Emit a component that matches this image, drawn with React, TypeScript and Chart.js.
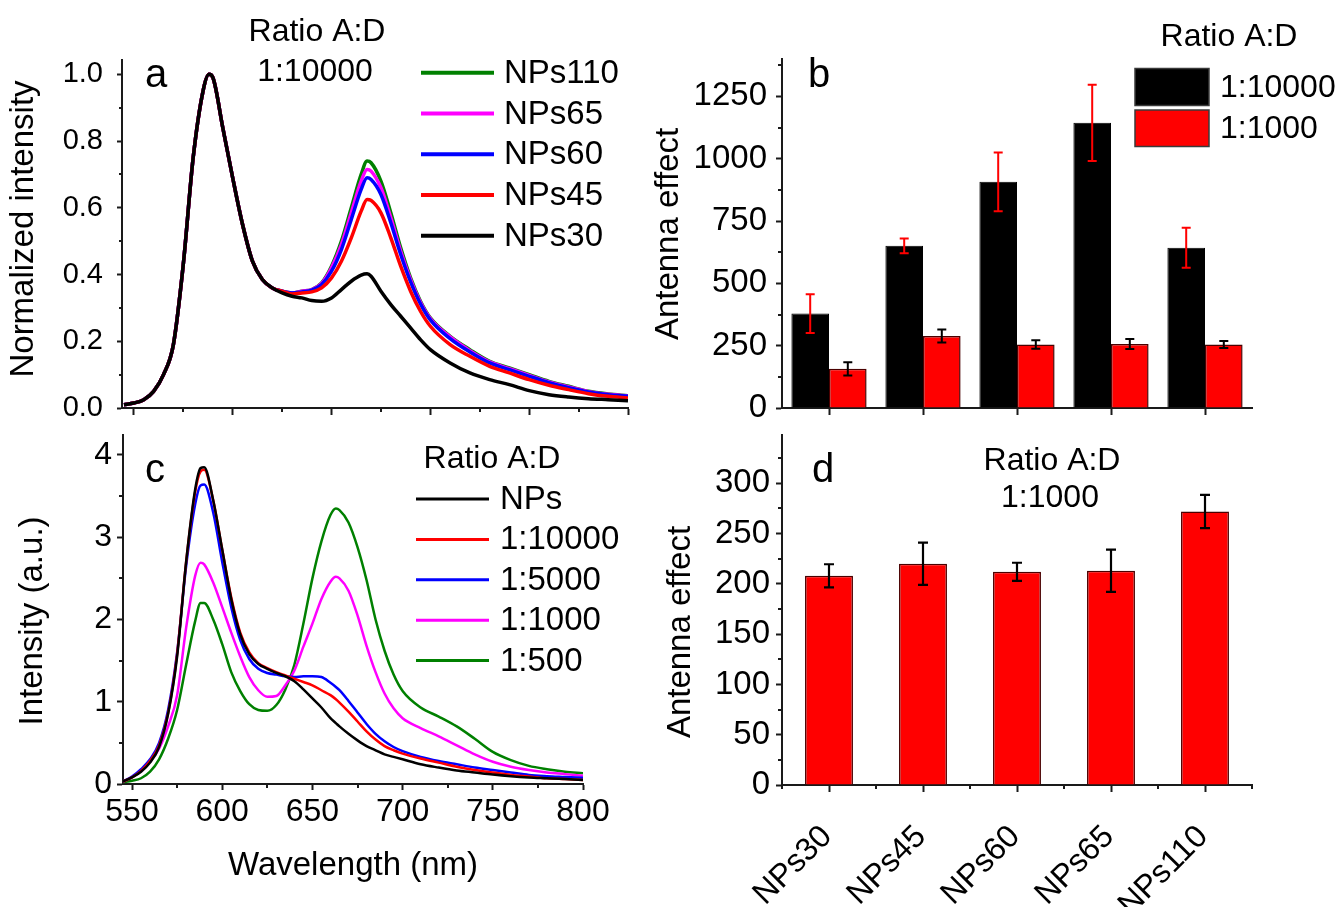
import React, { useEffect, useRef } from "react";
import { Chart, registerables } from "chart.js";

Chart.register(...registerables);

const FONT = '"Liberation Sans", Arial, Helvetica, sans-serif';
const PAGE_W = 1341;
const PAGE_H = 907;
const AXIS = "#1a1a1a";

// ---------------- Panel a : normalized spectra (ratio 1:10000) ----------------
const wavelengthA = [545, 550, 555, 560, 565, 570, 575, 580, 585, 588, 590, 595, 600, 605, 610, 615, 620, 625, 630, 635, 640, 645, 650, 655, 660, 665, 668, 670, 675, 680, 685, 690, 695, 700, 710, 720, 730, 740, 750, 760, 770, 780, 790, 800];
const normNPs30 = [0.01, 0.015, 0.025, 0.05, 0.1, 0.19, 0.43, 0.75, 0.95, 1.0, 0.99, 0.84, 0.69, 0.55, 0.44, 0.385, 0.36, 0.345, 0.335, 0.33, 0.322, 0.32, 0.33, 0.355, 0.38, 0.398, 0.402, 0.395, 0.35, 0.31, 0.275, 0.24, 0.205, 0.175, 0.135, 0.105, 0.085, 0.07, 0.052, 0.04, 0.033, 0.028, 0.025, 0.022];
const normNPs45 = [0.01, 0.015, 0.025, 0.05, 0.1, 0.19, 0.43, 0.75, 0.95, 1.0, 0.99, 0.84, 0.69, 0.55, 0.44, 0.385, 0.36, 0.35, 0.342, 0.345, 0.348, 0.36, 0.39, 0.44, 0.51, 0.59, 0.625, 0.622, 0.585, 0.51, 0.425, 0.35, 0.29, 0.245, 0.19, 0.155, 0.125, 0.105, 0.085, 0.068, 0.055, 0.043, 0.035, 0.03];
const normNPs60 = [0.01, 0.015, 0.025, 0.05, 0.1, 0.19, 0.43, 0.75, 0.95, 1.0, 0.99, 0.84, 0.69, 0.55, 0.44, 0.385, 0.36, 0.35, 0.345, 0.348, 0.353, 0.37, 0.41, 0.475, 0.565, 0.655, 0.69, 0.685, 0.64, 0.555, 0.46, 0.378, 0.312, 0.264, 0.208, 0.168, 0.135, 0.115, 0.095, 0.076, 0.061, 0.048, 0.04, 0.035];
const normNPs65 = [0.01, 0.015, 0.025, 0.05, 0.1, 0.19, 0.43, 0.75, 0.95, 1.0, 0.99, 0.84, 0.69, 0.55, 0.44, 0.385, 0.36, 0.35, 0.345, 0.35, 0.355, 0.373, 0.42, 0.49, 0.585, 0.68, 0.715, 0.71, 0.66, 0.57, 0.47, 0.385, 0.317, 0.268, 0.213, 0.172, 0.138, 0.118, 0.098, 0.078, 0.063, 0.049, 0.041, 0.036];
const normNPs110 = [0.01, 0.015, 0.025, 0.05, 0.1, 0.19, 0.43, 0.75, 0.95, 1.0, 0.99, 0.84, 0.69, 0.55, 0.44, 0.385, 0.36, 0.35, 0.345, 0.35, 0.355, 0.375, 0.425, 0.5, 0.6, 0.7, 0.74, 0.735, 0.68, 0.585, 0.48, 0.39, 0.32, 0.27, 0.215, 0.175, 0.14, 0.12, 0.1, 0.08, 0.065, 0.05, 0.042, 0.037];
const aYTicks = [0, 0.2, 0.4, 0.6, 0.8, 1.0];
const aYMinor = [0.1, 0.3, 0.5, 0.7, 0.9];
const xMajorNm = [550, 600, 650, 700, 750, 800];
const xMinorNm = [575, 625, 675, 725, 775];

// ---------------- Panel c : raw spectra vs ratio ----------------
const wavelengthC = [545, 550, 555, 560, 565, 570, 575, 580, 585, 588, 590, 595, 600, 605, 610, 615, 620, 625, 630, 635, 640, 645, 650, 655, 660, 663, 665, 670, 675, 680, 685, 690, 695, 700, 710, 720, 730, 740, 750, 760, 770, 780, 790, 800];
const intNPs = [0.03, 0.08, 0.15, 0.26, 0.45, 0.85, 1.55, 2.7, 3.58, 3.84, 3.85, 3.45, 2.85, 2.25, 1.82, 1.58, 1.46, 1.4, 1.35, 1.31, 1.25, 1.15, 1.04, 0.93, 0.8, 0.74, 0.7, 0.61, 0.53, 0.46, 0.41, 0.36, 0.33, 0.3, 0.24, 0.2, 0.165, 0.14, 0.115, 0.095, 0.08, 0.07, 0.06, 0.05];
const int10000 = [0.03, 0.08, 0.16, 0.28, 0.47, 0.86, 1.58, 2.7, 3.55, 3.8, 3.82, 3.45, 2.85, 2.27, 1.84, 1.6, 1.47, 1.41, 1.36, 1.32, 1.28, 1.24, 1.2, 1.14, 1.08, 1.03, 0.99, 0.88, 0.76, 0.64, 0.54, 0.46, 0.41, 0.37, 0.31, 0.26, 0.21, 0.17, 0.14, 0.11, 0.09, 0.07, 0.06, 0.05];
const int5000 = [0.03, 0.09, 0.18, 0.3, 0.5, 0.9, 1.6, 2.65, 3.4, 3.63, 3.64, 3.3, 2.7, 2.15, 1.75, 1.52, 1.4, 1.35, 1.33, 1.31, 1.3, 1.31, 1.31, 1.3, 1.23, 1.18, 1.14, 1.01, 0.87, 0.73, 0.61, 0.52, 0.45, 0.4, 0.33, 0.28, 0.24, 0.2, 0.17, 0.14, 0.11, 0.095, 0.085, 0.075];
const int1000 = [0.03, 0.08, 0.16, 0.27, 0.43, 0.7, 1.08, 1.9, 2.53, 2.69, 2.67, 2.45, 2.15, 1.84, 1.55, 1.3, 1.14, 1.06, 1.07, 1.2, 1.38, 1.67, 1.95, 2.25, 2.46, 2.52, 2.5, 2.35, 2.05, 1.68, 1.36, 1.1, 0.92, 0.8, 0.68, 0.58, 0.47, 0.36, 0.27, 0.21, 0.17, 0.14, 0.12, 0.1];
const int500 = [0.02, 0.04, 0.07, 0.15, 0.3, 0.55, 0.9, 1.45, 1.98, 2.2, 2.2, 2.0, 1.7, 1.36, 1.13, 0.97, 0.9, 0.89, 0.96, 1.15, 1.45, 1.95, 2.5, 2.95, 3.27, 3.35, 3.33, 3.18, 2.88, 2.48, 2.0, 1.62, 1.33, 1.13, 0.93, 0.82, 0.7, 0.55, 0.39, 0.29, 0.22, 0.18, 0.15, 0.13];
const cYTicks = [0, 1, 2, 3, 4];
const cYMinor = [0.5, 1.5, 2.5, 3.5];

// ---------------- Panel b : antenna effect, two ratios ----------------
const sampleNames = ["NPs30", "NPs45", "NPs60", "NPs65", "NPs110"];
const antenna10000 = [379, 651, 908, 1144, 643];
const antenna10000ErrUp = [77, 29, 117, 153, 80];
const antenna10000ErrDown = [78, 30, 119, 153, 80];
const antenna1000b = [157, 289, 255, 257, 255];
const antenna1000bErr = [27, 26, 17, 20, 14];
const bYTicks = [0, 250, 500, 750, 1000, 1250];
const bYMinor = [125, 375, 625, 875, 1125, 1375];

// ---------------- Panel d : antenna effect, ratio 1:1000 ----------------
const antenna1000d = [208, 220, 212, 213, 272];
const antenna1000dErr = [11.5, 21, 9, 21, 16.5];
const dYTicks = [0, 50, 100, 150, 200, 250, 300];
const dYMinor = [25, 75, 125, 175, 225, 275, 325];

// ---------------- layout helpers ----------------
type Area = { x0: number; y0: number; x1: number; y1: number };
const Y_BOX = 110;
const areaA: Area = { x0: 122, y0: 60, x1: 628, y1: 408 };
const areaC: Area = { x0: 123, y0: 435, x1: 583, y1: 784 };
const areaB: Area = { x0: 782, y0: 59, x1: 1252, y1: 408 };
const areaD: Area = { x0: 782, y0: 435, x1: 1252, y1: 785 };

function padFor(a: Area) {
  return { left: a.x0 - Y_BOX, top: a.y0, right: PAGE_W - a.x1, bottom: 0 };
}
function zeroPad(s: any) {
  s.paddingTop = 0;
  s.paddingBottom = 0;
  s.paddingLeft = 0;
  s.paddingRight = 0;
}
const fitY = (s: any) => {
  s.width = Y_BOX;
  zeroPad(s);
};
const fitXFor = (a: Area) => (s: any) => {
  s.height = PAGE_H - a.y1;
  zeroPad(s);
};
const setTicks = (vals: number[]) => (s: any) => {
  s.ticks = vals.map((v) => ({ value: v }));
};

type TextItem = { t: string; x: number; y: number; size: number; align?: CanvasTextAlign; base?: CanvasTextBaseline; rot?: number };
function textPlugin(items: TextItem[]) {
  return {
    id: "texts",
    afterDraw(chart: any) {
      const ctx = chart.ctx;
      items.forEach((it) => {
        ctx.save();
        ctx.font = `${it.size}px ${FONT}`;
        ctx.fillStyle = "#000";
        ctx.textAlign = it.align ?? "center";
        ctx.textBaseline = it.base ?? "middle";
        ctx.translate(it.x, it.y);
        if (it.rot) ctx.rotate(it.rot);
        ctx.fillText(it.t, 0, 0);
        ctx.restore();
      });
    },
  };
}

function minorTicksPlugin(xVals: number[], yVals: number[], xLen: number, yLen: number) {
  return {
    id: "minorTicks",
    afterDraw(chart: any) {
      const ctx = chart.ctx;
      const xs = chart.scales.x;
      const ys = chart.scales.y;
      const area = chart.chartArea;
      ctx.save();
      ctx.strokeStyle = AXIS;
      ctx.lineWidth = 2;
      ctx.beginPath();
      xVals.forEach((v) => {
        const px = Math.round(xs.getPixelForValue(v));
        ctx.moveTo(px, area.bottom);
        ctx.lineTo(px, area.bottom + xLen);
      });
      yVals.forEach((v) => {
        const py = Math.round(ys.getPixelForValue(v));
        ctx.moveTo(area.left, py);
        ctx.lineTo(area.left - yLen, py);
      });
      ctx.stroke();
      ctx.restore();
    },
  };
}

function lineLegendPlugin(order: number[], lx0: number, lx1: number, tx: number, y0: number, dy: number, lw: number, size: number) {
  return {
    id: "lineLegend",
    afterDraw(chart: any) {
      const ctx = chart.ctx;
      order.forEach((dsIdx, row) => {
        const ds = chart.data.datasets[dsIdx];
        const y = y0 + row * dy;
        ctx.save();
        ctx.strokeStyle = ds.borderColor;
        ctx.lineWidth = lw;
        ctx.beginPath();
        ctx.moveTo(lx0, y);
        ctx.lineTo(lx1, y);
        ctx.stroke();
        ctx.font = `${size}px ${FONT}`;
        ctx.fillStyle = "#000";
        ctx.textAlign = "left";
        ctx.textBaseline = "middle";
        ctx.fillText(ds.label, tx, y + 1);
        ctx.restore();
      });
    },
  };
}

function boxLegendPlugin(bx0: number, bx1: number, rows: [number, number][], tx: number, size: number) {
  return {
    id: "boxLegend",
    afterDraw(chart: any) {
      const ctx = chart.ctx;
      rows.forEach(([top, bottom], i) => {
        const ds = chart.data.datasets[i];
        ctx.save();
        ctx.fillStyle = ds.backgroundColor;
        ctx.fillRect(bx0, top, bx1 - bx0, bottom - top);
        ctx.strokeStyle = "#3a3a3a";
        ctx.lineWidth = 1.5;
        ctx.strokeRect(bx0, top, bx1 - bx0, bottom - top);
        ctx.font = `${size}px ${FONT}`;
        ctx.fillStyle = "#000";
        ctx.textAlign = "left";
        ctx.textBaseline = "middle";
        ctx.fillText(ds.label, tx, (top + bottom) / 2 + 1);
        ctx.restore();
      });
    },
  };
}

type ErrSpec = { ds: number; up: number[]; down: number[]; color: string; cap: number; lw: number };
function errorBarsPlugin(specs: ErrSpec[]) {
  return {
    id: "errorBars",
    afterDatasetsDraw(chart: any) {
      const ctx = chart.ctx;
      const ys = chart.scales.y;
      specs.forEach((s) => {
        const meta = chart.getDatasetMeta(s.ds);
        const vals = chart.data.datasets[s.ds].data as number[];
        meta.data.forEach((el: any, i: number) => {
          const x = el.x;
          const v = vals[i];
          const top = ys.getPixelForValue(v + s.up[i]);
          const bot = ys.getPixelForValue(v - s.down[i]);
          ctx.save();
          ctx.strokeStyle = s.color;
          ctx.lineWidth = s.lw;
          ctx.beginPath();
          ctx.moveTo(x, top);
          ctx.lineTo(x, bot);
          ctx.moveTo(x - s.cap / 2, top);
          ctx.lineTo(x + s.cap / 2, top);
          ctx.moveTo(x - s.cap / 2, bot);
          ctx.lineTo(x + s.cap / 2, bot);
          ctx.stroke();
          ctx.restore();
        });
      });
    },
  };
}

function axisStyle(tickLen: number, offset?: boolean) {
  const grid: any = { display: true, drawOnChartArea: false, drawTicks: true, tickLength: tickLen, tickWidth: 2, tickColor: AXIS, color: AXIS };
  if (offset !== undefined) grid.offset = offset;
  return {
    grid,
    border: { display: true, color: AXIS, width: 2 },
  };
}

function lineDataset(label: string, xs: number[], ys: number[], color: string, width: number) {
  return {
    label,
    data: xs.map((x, i) => ({ x, y: ys[i] })),
    borderColor: color,
    backgroundColor: color,
    borderWidth: width,
    pointRadius: 0,
    fill: false,
    tension: 0,
    cubicInterpolationMode: "monotone",
  };
}

const baseOptions = {
  responsive: false,
  maintainAspectRatio: false,
  animation: false,
  devicePixelRatio: 1,
  events: [],
};

function configA(): any {
  return {
    type: "line",
    data: {
      datasets: [
        lineDataset("NPs30", wavelengthA, normNPs30, "#000000", 3.5),
        lineDataset("NPs45", wavelengthA, normNPs45, "#ff0000", 3.5),
        lineDataset("NPs60", wavelengthA, normNPs60, "#0000ff", 3.5),
        lineDataset("NPs65", wavelengthA, normNPs65, "#ff00ff", 3.5),
        lineDataset("NPs110", wavelengthA, normNPs110, "#008000", 3.5),
      ],
    },
    options: {
      ...baseOptions,
      layout: { padding: padFor(areaA) },
      plugins: { legend: { display: false }, tooltip: { enabled: false } },
      scales: {
        x: {
          type: "linear",
          min: 544,
          max: 800,
          afterBuildTicks: setTicks(xMajorNm),
          afterFit: fitXFor(areaA),
          ticks: { display: false },
          ...axisStyle(7),
        },
        y: {
          type: "linear",
          min: 0,
          max: 1.043,
          afterBuildTicks: setTicks(aYTicks),
          afterFit: fitY,
          ticks: { font: { family: FONT, size: 29 }, color: "#000", padding: 14, callback: (v: any) => Number(v).toFixed(1) },
          ...axisStyle(5),
        },
      },
    },
    plugins: [
      minorTicksPlugin(xMinorNm, aYMinor, 4, 3),
      lineLegendPlugin([4, 3, 2, 1, 0], 421, 494, 504, 72.7, 40.75, 4, 33),
      textPlugin([
        { t: "Ratio A:D", x: 317, y: 32, size: 32 },
        { t: "1:10000", x: 315, y: 72, size: 32 },
        { t: "a", x: 145, y: 87, size: 40, align: "left", base: "alphabetic" },
        { t: "Normalized intensity", x: 24, y: 229, size: 33, rot: -Math.PI / 2 },
      ]),
    ],
  };
}

function configC(): any {
  return {
    type: "line",
    data: {
      datasets: [
        lineDataset("NPs", wavelengthC, intNPs, "#000000", 2.5),
        lineDataset("1:10000", wavelengthC, int10000, "#ff0000", 2.5),
        lineDataset("1:5000", wavelengthC, int5000, "#0000ff", 2.5),
        lineDataset("1:1000", wavelengthC, int1000, "#ff00ff", 2.5),
        lineDataset("1:500", wavelengthC, int500, "#008000", 2.5),
      ],
    },
    options: {
      ...baseOptions,
      layout: { padding: padFor(areaC) },
      plugins: { legend: { display: false }, tooltip: { enabled: false } },
      scales: {
        x: {
          type: "linear",
          min: 545,
          max: 800,
          afterBuildTicks: setTicks(xMajorNm),
          afterFit: fitXFor(areaC),
          ticks: { font: { family: FONT, size: 32 }, color: "#000", padding: 3, maxRotation: 0, callback: (v: any) => String(v) },
          ...axisStyle(6),
        },
        y: {
          type: "linear",
          min: 0,
          max: 4.243,
          afterBuildTicks: setTicks(cYTicks),
          afterFit: fitY,
          ticks: { font: { family: FONT, size: 32 }, color: "#000", padding: 5, callback: (v: any) => String(v) },
          ...axisStyle(6),
        },
      },
    },
    plugins: [
      minorTicksPlugin(xMinorNm, cYMinor, 4, 4),
      lineLegendPlugin([0, 1, 2, 3, 4], 416, 489, 500, 499, 40.4, 3, 33),
      textPlugin([
        { t: "Ratio A:D", x: 492, y: 459, size: 32 },
        { t: "c", x: 145, y: 482, size: 40, align: "left", base: "alphabetic" },
        { t: "Intensity (a.u.)", x: 33, y: 621, size: 33, rot: -Math.PI / 2 },
        { t: "Wavelength (nm)", x: 353, y: 866, size: 33 },
      ]),
    ],
  };
}

function configB(): any {
  return {
    type: "bar",
    data: {
      labels: sampleNames,
      datasets: [
        { label: "1:10000", data: antenna10000, backgroundColor: "#000000", borderColor: "#000000", borderWidth: 1, categoryPercentage: 0.8, barPercentage: 1.0 },
        { label: "1:1000", data: antenna1000b, backgroundColor: "#ff0000", borderColor: "#4a0000", borderWidth: 1.5, categoryPercentage: 0.8, barPercentage: 1.0 },
      ],
    },
    options: {
      ...baseOptions,
      layout: { padding: padFor(areaB) },
      plugins: { legend: { display: false }, tooltip: { enabled: false } },
      scales: {
        x: {
          type: "category",
          offset: true,
          afterFit: fitXFor(areaB),
          ticks: { display: false },
          ...axisStyle(7, false),
        },
        y: {
          type: "linear",
          min: 0,
          max: 1400,
          afterBuildTicks: setTicks(bYTicks),
          afterFit: fitY,
          ticks: { font: { family: FONT, size: 33 }, color: "#000", padding: 9, callback: (v: any) => String(v) },
          ...axisStyle(6),
        },
      },
    },
    plugins: [
      minorTicksPlugin([], bYMinor, 0, 4),
      errorBarsPlugin([
        { ds: 0, up: antenna10000ErrUp, down: antenna10000ErrDown, color: "#ff0000", cap: 9, lw: 2 },
        { ds: 1, up: antenna1000bErr, down: antenna1000bErr, color: "#000000", cap: 9, lw: 2 },
      ]),
      boxLegendPlugin(1135, 1209, [[68.5, 105.5], [110, 146.5]], 1220, 32),
      textPlugin([
        { t: "Ratio A:D", x: 1229, y: 37, size: 32 },
        { t: "b", x: 808, y: 87, size: 40, align: "left", base: "alphabetic" },
        { t: "Antenna effect", x: 669, y: 234, size: 33, rot: -Math.PI / 2 },
      ]),
    ],
  };
}

function configD(): any {
  return {
    type: "bar",
    data: {
      labels: sampleNames,
      datasets: [
        { label: "1:1000", data: antenna1000d, backgroundColor: "#ff0000", borderColor: "#4a0000", borderWidth: 1.5, categoryPercentage: 0.51, barPercentage: 1.0 },
      ],
    },
    options: {
      ...baseOptions,
      layout: { padding: padFor(areaD) },
      plugins: { legend: { display: false }, tooltip: { enabled: false } },
      scales: {
        x: {
          type: "category",
          offset: true,
          afterFit: fitXFor(areaD),
          ticks: { font: { family: FONT, size: 32 }, color: "#000", minRotation: 45, maxRotation: 45, autoSkip: false, padding: 26, labelOffset: -2 },
          ...axisStyle(7, false),
        },
        y: {
          type: "linear",
          min: 0,
          max: 348,
          afterBuildTicks: setTicks(dYTicks),
          afterFit: fitY,
          ticks: { font: { family: FONT, size: 33 }, color: "#000", padding: 6, callback: (v: any) => String(v) },
          ...axisStyle(6),
        },
      },
    },
    plugins: [
      minorTicksPlugin([-0.5, 0.5, 1.5, 2.5, 3.5, 4.5], dYMinor, 4, 4),
      errorBarsPlugin([{ ds: 0, up: antenna1000dErr, down: antenna1000dErr, color: "#000000", cap: 10, lw: 2.2 }]),
      textPlugin([
        { t: "Ratio A:D", x: 1052, y: 461, size: 32 },
        { t: "1:1000", x: 1050, y: 498.5, size: 32 },
        { t: "d", x: 812, y: 482, size: 40, align: "left", base: "alphabetic" },
        { t: "Antenna effect", x: 681, y: 632, size: 33, rot: -Math.PI / 2 },
      ]),
    ],
  };
}

export default function App() {
  const refA = useRef<HTMLCanvasElement>(null);
  const refB = useRef<HTMLCanvasElement>(null);
  const refC = useRef<HTMLCanvasElement>(null);
  const refD = useRef<HTMLCanvasElement>(null);

  useEffect(() => {
    Chart.defaults.font.family = FONT;
    const charts = [
      new Chart(refA.current as HTMLCanvasElement, configA()),
      new Chart(refB.current as HTMLCanvasElement, configB()),
      new Chart(refC.current as HTMLCanvasElement, configC()),
      new Chart(refD.current as HTMLCanvasElement, configD()),
    ];
    return () => {
      charts.forEach((c) => c.destroy());
    };
  }, []);

  const cs: React.CSSProperties = { position: "absolute", left: 0, top: 0, width: PAGE_W, height: PAGE_H };
  return (
    <div style={{ position: "absolute", left: 0, top: 0, width: PAGE_W, height: PAGE_H, background: "#ffffff", overflow: "hidden" }}>
      <canvas ref={refA} width={PAGE_W} height={PAGE_H} style={cs} />
      <canvas ref={refB} width={PAGE_W} height={PAGE_H} style={cs} />
      <canvas ref={refC} width={PAGE_W} height={PAGE_H} style={cs} />
      <canvas ref={refD} width={PAGE_W} height={PAGE_H} style={cs} />
    </div>
  );
}
